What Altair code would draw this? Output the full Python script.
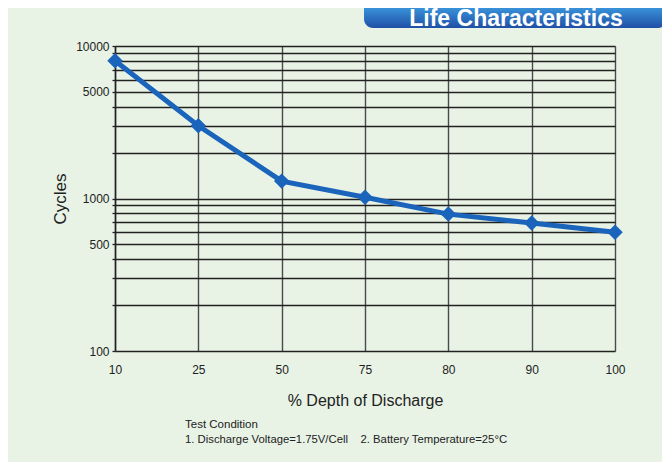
import altair as alt
import pandas as pd

# ---- data ----
dod = ["10", "25", "50", "75", "80", "90", "100"]
cycles = [8000, 3000, 1300, 1020, 790, 690, 600]
grid_values = [100, 200, 300, 400, 500, 600, 700, 800, 900,
               1000, 2000, 3000, 4000, 5000, 6000, 7000, 8000, 9000, 10000]
label_values = [100, 500, 1000, 5000, 10000]

banner_text = ["Life Characteristics"]
cond_line1 = ["Test Condition"]
cond_line2 = ["1. Discharge Voltage=1.75V/Cell\u00a0\u00a0\u00a0\u00a02. Battery Temperature=25°C"]

SANS = "Liberation Sans, Arial, sans-serif"
BLUE = "#1a64bb"
BG = "#e8f3e6"

df = pd.DataFrame({"dod": dod, "cycles": cycles})

label_list = ",".join(str(v) for v in label_values)

x_enc = alt.X(
    "dod:O", sort=None,
    scale=alt.Scale(type="point", padding=0),
    axis=alt.Axis(
        title="% Depth of Discharge", labelAngle=0, grid=True,
        gridColor="#4a4a4a", gridWidth=1.4, domain=False, ticks=False,
        labelPadding=13, labelFont=SANS, labelFontSize=12, labelColor="#222",
        titleFont=SANS, titleFontSize=16, titleFontWeight="normal",
        titleColor="#222", titlePadding=17,
    ),
)
y_enc = alt.Y(
    "cycles:Q",
    scale=alt.Scale(type="log", domain=[100, 10000]),
    axis=alt.Axis(
        values=grid_values,
        labelExpr=f"indexof([{label_list}], datum.value) >= 0 ? datum.value : ''",
        labelOverlap=False, labelFlush=False,
        grid=True, gridColor="#222", gridWidth=1.3,
        domainColor="#222", domainWidth=1.5,
        tickSize=3, tickColor="#222", tickWidth=1.3,
        labelPadding=3, labelFont=SANS, labelFontSize=12, labelColor="#222",
        title="Cycles", titleFont=SANS, titleFontSize=17,
        titleFontWeight="normal", titleColor="#222", titlePadding=6,
    ),
)

line = alt.Chart(df).mark_line(color=BLUE, strokeWidth=5).encode(x=x_enc, y=y_enc)
pts = alt.Chart(df).mark_point(
    shape="diamond", filled=True, size=240, color=BLUE, opacity=1
).encode(x=x_enc, y=y_enc)

banner = alt.Chart(pd.DataFrame({"t": banner_text})).mark_rect(
    cornerRadius=9,
    color=alt.LinearGradient(
        gradient="linear", x1=0, x2=0, y1=0, y2=1,
        stops=[alt.GradientStop(color="#6fd0f6", offset=0),
               alt.GradientStop(color="#3a95dc", offset=0.5),
               alt.GradientStop(color="#1f4fa6", offset=1)],
    ),
).encode(x=alt.value(249), x2=alt.value(552), y=alt.value(-60), y2=alt.value(-18))

banner_txt = alt.Chart(pd.DataFrame({"t": banner_text})).mark_text(
    font=SANS, fontSize=23, fontWeight="bold", color="white",
    align="center", baseline="alphabetic",
).encode(x=alt.value(401), y=alt.value(-20.5), text="t:N")

c1 = alt.Chart(pd.DataFrame({"t": cond_line1})).mark_text(
    font=SANS, fontSize=11.5, color="#222", align="left", baseline="alphabetic"
).encode(x=alt.value(70), y=alt.value(382), text="t:N")
c2 = alt.Chart(pd.DataFrame({"t": cond_line2})).mark_text(
    font=SANS, fontSize=11.3, color="#222", align="left", baseline="alphabetic"
).encode(x=alt.value(70), y=alt.value(397), text="t:N")

chart = alt.layer(line, pts, banner, banner_txt, c1, c2).properties(
    width=500, height=305,
    autosize=alt.AutoSizeParams(type="none"),
    padding={"left": 107, "top": 38, "right": 47, "bottom": 111},
    background=BG,
).configure_view(stroke=None)

chart.save("out.html", embed_options={"renderer": "svg", "actions": False})
